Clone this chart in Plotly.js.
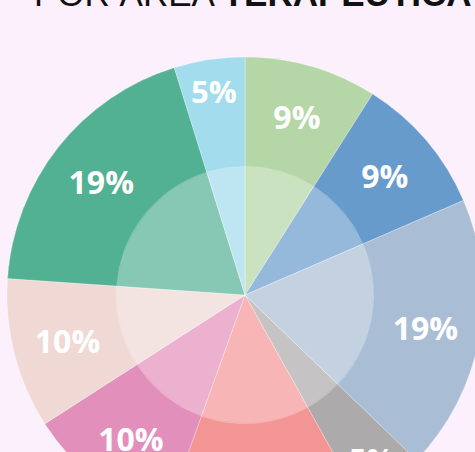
<!DOCTYPE html>
<html>
<head>
<meta charset="utf-8">
<script src="https://cdn.plot.ly/plotly-3.0.1.min.js"></script>
<style>
html,body{margin:0;padding:0;width:475px;height:452px;overflow:hidden;background:#fcf0fc;}
#chart{position:absolute;left:0;top:-80px;width:500px;height:640px;}
</style>
</head>
<body>
<div id="chart"></div>
<script>
const categories = ['Área 1','Área 2','Área 3','Área 4','Área 5','Área 6','Área 7','Área 8','Área 9'];
const values = [9.0, 9.5, 18.7, 4.7, 13.6, 10.4, 10.2, 19.1, 4.8];
const labels = ['9%','9%','19%','5%','14%','10%','10%','19%','5%'];
const colors = ['#b5d6a6','#669bcc','#a9bed5','#acaaaa','#f49595','#e290bb','#f0d8d5','#52b093','#a3dcec'];

const W = 500, H = 640, TOP = 80;
const cx = 245, cy = 295 + TOP, R = 238, r = 128;
const cyb = H - cy;
const outerDomain = {x: [(cx - R) / W, (cx + R) / W], y: [(cyb - R) / H, (cyb + R) / H]};
const line = {color: 'rgba(255,255,255,0.5)', width: 0.6};

const data = [
  {
    type: 'pie', labels: categories, values: values,
    textinfo: 'none', sort: false, direction: 'clockwise', rotation: 0,
    marker: {colors: colors, line: line},
    domain: outerDomain, hoverinfo: 'none', showlegend: false
  },
  {
    type: 'pie', labels: ['centro'], values: [1],
    textinfo: 'none', sort: false,
    marker: {colors: ['rgba(255,255,255,0.3)'], line: {width: 0}},
    domain: {x: [(cx - r) / W, (cx + r) / W], y: [(cyb - r) / H, (cyb + r) / H]},
    hoverinfo: 'none', showlegend: false
  },
  {
    type: 'pie', labels: categories, values: values, text: labels,
    textinfo: 'text', textposition: 'inside', insidetextorientation: 'horizontal',
    hole: 0.54, sort: false, direction: 'clockwise', rotation: 0,
    marker: {colors: colors, line: line},
    textfont: {family: 'Open Sans', size: 32, color: '#ffffff', weight: 'bold'},
    domain: outerDomain, hoverinfo: 'none', showlegend: false
  }
];

const layout = {
  width: W, height: H,
  margin: {l: 0, r: 0, t: 0, b: 0},
  paper_bgcolor: '#fcf0fc',
  plot_bgcolor: '#fcf0fc',
  showlegend: false,
  annotations: [{
    text: 'POR ÁREA <b>TERAPÉUTICA</b>',
    xref: 'paper', yref: 'paper',
    x: 32 / W, xanchor: 'left',
    y: 1 - (TOP + 15) / H, yanchor: 'bottom',
    showarrow: false,
    font: {family: 'Liberation Sans, Arial, sans-serif', size: 35, color: '#111111'}
  }]
};

Plotly.newPlot('chart', data, layout, {displayModeBar: false, staticPlot: true});
</script>
</body>
</html>
